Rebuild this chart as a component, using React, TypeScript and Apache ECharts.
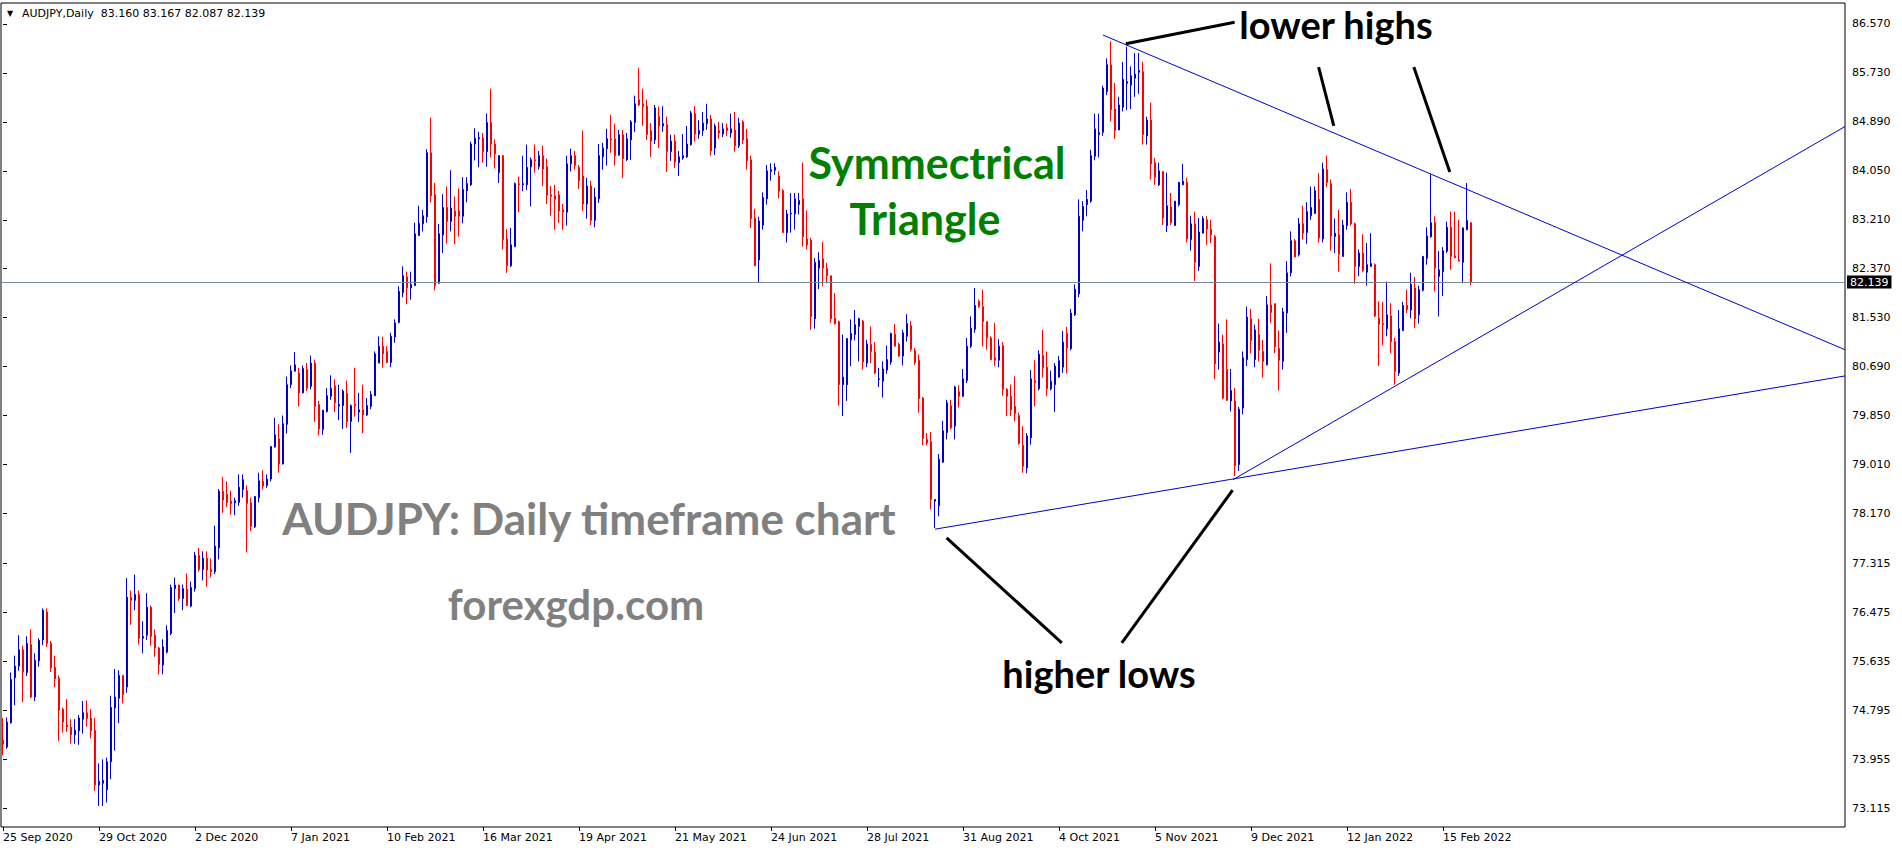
import React, { useEffect, useRef } from 'react';
import * as echarts from 'echarts';

// ---- axis tick labels ----
const TICK_LABELS = ['25 Sep 2020', '29 Oct 2020', '2 Dec 2020', '7 Jan 2021', '10 Feb 2021', '16 Mar 2021', '19 Apr 2021', '21 May 2021', '24 Jun 2021', '28 Jul 2021', '31 Aug 2021', '4 Oct 2021', '5 Nov 2021', '9 Dec 2021', '12 Jan 2022', '15 Feb 2022'];
const TICK_EVERY = 24;
const PRICE_TICKS = [86.570, 85.730, 84.890, 84.050, 83.210, 82.370, 81.530, 80.690, 79.850, 79.010, 78.170, 77.315, 76.475, 75.635, 74.795, 73.955, 73.115];
const SLOTS = 461;
const Y_MIN = 72.789;
const Y_MAX = 86.930;
const LAST_PRICE = 82.139;

// ---- daily candles ----
const OPEN = [
74.28,74.16,74.58,75.35,75.55,75.83,75.44,75.92,75.02,75.64,
76.00,76.48,75.94,75.53,75.34,74.81,74.54,74.50,74.37,74.44,
74.64,74.75,74.66,74.45,73.51,73.54,73.43,73.91,74.83,75.00,
75.39,75.19,76.73,76.68,76.78,76.03,76.08,76.56,76.08,75.86,
75.57,75.79,76.11,76.88,76.94,76.71,76.87,76.58,76.88,77.45,
77.21,77.40,77.21,77.17,77.58,78.55,78.50,78.38,78.35,78.36,
78.58,78.56,78.35,77.94,78.44,78.72,78.65,78.76,79.31,79.45,
79.02,79.70,80.38,80.61,80.58,80.24,80.64,80.35,80.75,80.04,
79.61,79.92,80.18,80.36,80.01,80.02,80.23,79.75,80.05,79.91,
79.95,79.86,80.01,80.19,80.75,81.04,80.95,80.76,81.20,81.45,
81.96,82.23,82.04,82.08,82.94,83.14,83.26,84.36,83.64,82.12,
82.95,83.42,83.18,83.36,83.36,83.27,83.71,83.81,84.51,84.60,
84.61,84.38,84.88,84.51,84.02,84.31,82.88,82.42,82.75,83.83,
83.81,83.81,84.12,84.24,84.12,84.31,84.12,83.64,83.62,83.64,
83.38,83.34,84.17,84.31,84.11,83.96,83.48,83.79,83.20,83.57,
84.29,84.43,84.60,84.60,84.32,84.67,84.24,84.58,84.88,85.27,
85.20,85.16,84.74,84.58,84.98,84.82,84.84,84.38,84.56,84.19,
84.27,84.29,84.50,85.03,84.68,84.74,84.86,84.94,84.44,84.74,
84.68,84.79,84.70,84.75,84.48,84.89,84.60,84.24,83.24,82.52,
83.12,83.57,84.04,84.06,83.96,83.71,82.99,83.31,83.31,83.47,
83.57,82.88,82.86,81.51,82.38,82.54,82.37,82.25,81.52,81.46,
80.38,80.38,81.15,81.24,81.38,81.47,80.75,81.07,80.94,80.47,
80.44,80.63,80.77,81.25,81.07,80.87,81.21,81.39,80.96,80.80,
80.15,79.44,79.40,78.38,78.30,79.05,79.56,80.02,79.67,80.26,
80.18,80.45,81.04,81.33,81.81,81.72,81.46,81.18,80.84,80.80,
81.05,80.30,80.18,80.01,79.85,79.34,78.95,79.47,80.45,80.31,
80.88,80.68,80.31,80.38,80.51,80.68,81.26,81.00,81.58,81.94,
83.20,83.47,83.53,84.30,84.67,84.71,85.41,85.87,85.11,84.75,
85.14,85.55,85.52,85.64,85.74,85.75,84.65,84.92,84.19,83.81,
84.04,83.11,83.43,83.11,83.47,83.81,83.85,82.87,83.14,82.41,
82.98,83.21,83.05,82.92,80.94,81.08,80.64,80.10,80.10,79.01,
79.98,80.81,81.51,80.81,81.24,80.95,80.72,81.75,81.77,81.00,
80.78,81.61,82.30,82.85,82.61,83.14,82.99,83.28,83.32,83.56,
82.88,84.07,83.83,82.92,82.95,82.58,83.11,83.51,83.14,82.41,
82.64,82.31,82.41,82.44,81.52,81.43,81.34,81.56,81.12,80.58,
81.31,81.74,81.66,82.04,81.58,82.00,82.55,82.92,83.16,82.24,
82.32,82.67,83.08,82.59,82.52,82.48,83.04,83.160
];
const HIGH = [
74.66,74.67,75.44,75.73,76.08,75.90,76.06,76.18,75.77,76.03,
76.54,76.54,75.98,75.73,75.39,74.84,74.98,74.64,74.64,74.71,
74.95,74.96,74.81,74.66,73.88,73.95,73.98,75.04,75.50,75.48,
75.39,77.06,76.85,77.12,76.85,76.32,76.80,76.59,76.18,75.88,
76.01,76.25,76.95,77.07,76.95,76.95,77.14,77.00,77.51,77.58,
77.52,77.52,77.40,77.96,78.59,78.80,78.72,78.56,78.44,78.84,
78.84,78.65,78.44,78.47,78.87,78.91,78.84,79.32,79.81,79.70,
79.85,80.52,80.71,80.94,80.67,80.71,80.75,80.88,80.81,80.10,
79.95,80.32,80.54,80.47,80.38,80.30,80.45,80.04,80.67,80.24,
80.38,80.15,80.27,80.95,81.21,81.20,81.04,81.27,81.50,82.07,
82.41,82.32,82.32,83.16,83.45,83.38,84.42,84.96,83.84,83.14,
83.65,83.78,84.06,83.61,83.75,83.94,83.94,84.55,84.78,84.72,
84.70,85.03,85.46,84.59,84.32,84.32,83.05,83.07,83.85,83.95,
84.31,84.50,84.28,84.50,84.39,84.48,84.26,83.79,83.81,83.71,
83.48,84.31,84.43,84.39,84.15,84.74,83.93,83.88,83.76,84.51,
84.53,84.77,85.01,84.86,84.75,84.75,84.70,84.92,85.34,85.82,
85.46,85.27,84.87,85.18,85.15,85.16,84.98,84.67,84.67,84.39,
84.68,84.82,85.08,85.16,84.92,85.06,85.20,85.01,84.86,84.89,
84.87,84.86,85.03,85.06,84.96,84.92,84.77,84.31,83.40,83.26,
83.68,84.15,84.18,84.18,84.04,83.74,83.38,83.67,83.67,83.67,
84.19,83.37,82.90,82.55,82.65,82.83,82.47,82.25,81.95,81.48,
81.24,81.18,81.50,81.66,81.53,81.49,81.15,81.38,81.11,80.67,
80.78,81.05,81.27,81.42,81.10,81.32,81.59,81.47,81.01,80.90,
80.17,79.55,79.57,78.41,79.19,79.76,80.12,80.12,80.36,80.37,
80.65,81.18,81.55,82.04,81.84,82.01,81.47,81.21,81.44,81.16,
81.11,80.32,80.38,80.52,79.90,79.67,79.55,80.63,80.80,80.97,
81.32,80.95,80.62,80.75,80.87,81.30,81.37,81.68,82.10,83.56,
83.53,83.72,84.41,85.03,85.03,85.51,85.98,86.27,85.56,85.32,
85.92,86.18,85.84,86.07,86.07,85.92,84.98,85.22,84.27,84.19,
84.04,84.02,83.67,83.53,83.86,84.17,83.93,83.28,83.35,83.24,
83.27,83.27,83.21,82.95,81.43,81.24,81.50,80.65,80.32,80.00,
80.95,81.72,81.68,81.41,81.51,81.15,81.90,82.46,81.77,81.31,
81.70,82.50,83.01,82.88,83.24,83.45,83.51,83.78,83.78,84.01,
84.19,84.31,83.90,83.23,83.38,83.21,83.68,83.74,83.16,82.70,
82.96,82.81,82.98,82.46,81.81,81.80,82.15,81.78,81.18,81.66,
81.80,82.01,82.30,82.23,82.08,82.59,83.08,83.99,83.27,82.67,
82.74,83.18,83.35,83.35,83.21,83.08,83.84,83.167
];
const LOW = [
74.02,74.13,74.56,74.88,75.47,74.93,75.38,75.00,74.95,75.54,
75.91,75.88,75.45,75.19,74.27,74.41,74.42,74.22,74.22,74.20,
74.39,74.51,74.31,73.41,73.15,73.15,73.21,73.61,74.10,74.57,
74.91,75.09,76.26,76.51,75.92,75.77,76.00,75.90,75.71,75.41,
75.41,75.77,76.08,76.46,76.67,76.51,76.59,76.56,76.83,77.17,
77.02,76.91,77.07,77.13,77.38,78.18,78.28,78.15,78.14,78.30,
78.44,77.50,77.87,77.92,78.36,78.58,78.61,78.72,79.30,78.87,
79.01,79.54,80.32,80.61,80.01,80.23,80.27,80.30,79.74,79.51,
79.52,79.90,80.12,79.91,79.77,79.62,79.64,79.21,79.83,79.74,
79.55,79.84,79.96,80.19,80.75,80.67,80.75,80.68,81.10,81.43,
81.88,81.76,81.84,82.08,82.94,83.01,83.16,83.51,82.00,82.11,
82.64,82.80,83.01,82.79,82.92,83.15,83.51,83.79,84.23,84.11,
84.19,84.12,84.28,84.09,83.84,82.70,82.30,82.40,82.74,83.34,
83.70,83.72,83.44,84.02,84.07,83.79,83.48,83.28,83.04,83.16,
83.04,83.11,84.04,84.07,83.74,83.36,83.23,83.12,83.08,83.50,
84.07,84.14,84.36,84.14,84.31,83.93,84.22,84.24,84.72,85.16,
84.82,84.58,84.29,84.51,84.44,84.72,84.03,84.22,84.10,83.96,
84.24,84.27,84.48,84.55,84.60,84.65,84.75,84.31,84.32,84.60,
84.63,84.65,84.62,84.38,84.44,84.51,84.07,83.07,82.42,82.14,
83.04,83.47,83.88,83.98,83.58,82.99,82.82,82.99,83.04,83.30,
82.75,82.70,81.32,81.34,82.02,82.07,82.12,81.44,81.41,80.02,
79.84,80.10,80.70,81.14,80.78,80.64,80.68,80.75,80.56,80.34,
80.16,80.57,80.72,81.04,80.86,80.71,81.12,80.95,80.72,79.90,
79.34,79.34,78.24,77.92,78.12,79.04,79.44,79.61,79.44,79.99,
80.17,80.41,81.01,81.27,81.70,81.04,80.98,80.80,80.70,80.68,
80.19,79.84,79.84,79.75,79.35,78.87,78.86,79.35,80.01,80.28,
80.50,80.18,80.28,79.91,80.50,80.58,80.57,80.97,81.56,81.88,
83.01,83.27,83.50,84.23,84.28,84.65,85.35,84.90,84.60,84.75,
85.07,85.09,85.11,85.32,85.37,84.50,84.50,83.90,83.81,83.79,
83.12,83.00,83.12,83.11,83.44,83.81,82.82,82.68,82.16,82.33,
82.98,82.78,82.81,80.47,80.64,80.13,80.11,79.92,78.81,78.90,
79.87,80.70,80.92,80.68,80.78,80.50,80.71,81.44,80.92,80.28,
80.64,81.27,82.24,82.57,82.58,82.87,82.80,83.21,83.31,82.82,
82.82,83.77,82.68,82.64,82.32,82.58,83.04,83.11,82.11,82.24,
82.31,82.08,82.40,81.54,80.70,81.05,81.21,80.92,80.38,80.53,
81.30,81.61,81.52,81.35,81.43,81.98,82.44,82.90,81.98,81.55,
81.90,82.64,82.35,82.55,82.50,82.12,83.03,82.087
];
const CLOSE = [
74.21,74.59,75.32,75.55,75.83,75.45,75.94,75.02,75.65,75.99,
76.51,75.94,75.52,75.33,74.80,74.59,74.51,74.37,74.45,74.66,
74.75,74.65,74.44,73.51,73.57,73.59,73.91,74.84,75.02,75.39,
75.06,76.73,76.68,76.78,76.03,76.06,76.56,76.06,75.86,75.58,
75.88,76.16,76.90,76.94,76.71,76.88,76.59,76.90,77.45,77.21,
77.40,77.20,77.17,77.61,78.55,78.40,78.36,78.34,78.39,78.62,
78.75,78.34,77.95,78.46,78.73,78.64,78.76,79.32,79.52,79.02,
79.71,80.38,80.62,80.72,80.24,80.66,80.32,80.75,80.01,79.62,
79.94,80.19,80.32,80.07,80.04,80.27,79.75,80.02,80.02,79.95,
79.86,80.02,80.21,80.91,81.04,80.91,80.76,81.21,81.44,81.98,
82.25,82.04,82.10,82.97,83.15,83.28,84.36,83.62,82.08,82.97,
83.42,83.18,83.41,83.27,83.27,83.73,83.83,84.51,84.61,84.62,
84.38,84.88,84.51,84.34,84.31,82.87,82.42,82.78,83.83,83.81,
83.83,84.11,84.24,84.22,84.31,84.08,83.63,83.61,83.56,83.36,
83.34,84.17,84.31,84.14,83.88,83.48,83.79,83.20,83.60,84.31,
84.44,84.60,84.58,84.31,84.67,84.26,84.60,84.89,85.20,85.18,
85.15,84.67,84.56,85.13,84.82,84.86,84.38,84.56,84.20,84.29,
84.31,84.51,85.04,84.68,84.74,84.87,84.94,84.39,84.82,84.70,
84.77,84.74,84.77,84.48,84.87,84.58,84.22,83.23,82.42,83.19,
83.59,84.05,84.07,84.11,83.70,82.99,83.31,83.32,83.57,83.54,
82.92,82.78,81.55,82.48,82.51,82.38,82.25,81.51,81.43,80.38,
80.51,81.17,81.26,81.41,81.51,80.77,81.08,80.95,80.58,80.48,
80.65,80.81,81.26,81.04,80.87,81.27,81.43,80.99,80.76,80.14,
79.46,79.38,78.41,78.41,79.10,79.59,80.07,79.64,80.34,80.18,
80.48,81.04,81.35,81.74,81.72,81.46,81.18,80.81,80.80,81.04,
80.30,80.18,79.95,79.88,79.37,78.98,79.50,80.48,80.41,80.90,
80.67,80.31,80.44,80.70,80.79,81.11,81.01,81.61,82.02,83.27,
83.44,83.56,84.31,84.77,84.71,85.47,85.87,85.10,84.74,85.18,
85.62,85.58,85.68,85.71,85.77,84.67,84.92,84.17,83.94,84.05,
83.24,83.45,83.16,83.53,83.85,83.87,82.88,83.14,82.48,83.00,
83.23,83.05,82.95,80.74,81.11,80.15,80.11,80.28,78.99,79.96,
80.84,81.54,81.14,81.32,80.97,80.78,81.75,81.62,81.03,80.80,
81.63,82.30,82.85,82.57,83.14,82.98,83.35,83.42,83.71,82.90,
84.08,83.85,82.93,82.98,82.62,83.12,83.51,83.14,82.41,82.64,
82.34,82.44,82.46,81.56,81.42,81.41,81.58,81.12,80.61,81.34,
81.74,81.67,82.10,81.51,82.01,82.58,82.93,83.16,82.38,82.35,
82.68,83.08,82.58,82.56,82.50,83.07,83.20,82.139
];

// ---- trend lines, [bar index, price] ----
const UPPER_TREND = [[275, 86.38], [460.5, 80.98]];
const LOWER_TREND = [[233, 77.90], [460.5, 80.53]];
const RISING_TREND = [[307.5, 78.75], [460.5, 84.81]];
// annotation pointers, [bar index, price]
const POINTERS = [
  [[280.7, 86.23], [307.9, 86.60]],
  [[328.9, 85.83], [332.7, 84.82]],
  [[352.7, 85.83], [361.7, 84.03]],
  [[235.9, 77.75], [264.7, 75.95]],
  [[279.7, 75.95], [307.4, 78.57]],
];

const BLUE = '#0000cd';
const RED = '#ff0000';
const AXIS_FONT = '"DejaVu Sans", Tahoma, sans-serif';
const BIG_FONT = 'Lato, "Open Sans", sans-serif';

export default function App() {
  const ref = useRef<HTMLDivElement>(null);
  useEffect(() => {
    if (!ref.current) return;
    document.body.style.margin = '0';
    const chart = echarts.init(ref.current, undefined, { renderer: 'svg' });
    const categories = Array.from({ length: SLOTS }, (_, i) => String(i));
    const candles = OPEN.map((o, i) => {
      const c = CLOSE[i];
      const h = Math.max(HIGH[i], o, c);
      const l = Math.min(LOW[i], o, c);
      return [o, c, l, h];
    });
    const last = OPEN.length - 1;
    const header = `AUDJPY,Daily  ${OPEN[last].toFixed(3)} ${HIGH[last].toFixed(3)} ${LOW[last].toFixed(3)} ${CLOSE[last].toFixed(3)}`;
    const showTick = (i: number) => i % TICK_EVERY === 0 && i / TICK_EVERY < TICK_LABELS.length;

    const lineSeries = (data: number[][], color: string, width: number) => ({
      type: 'line',
      xAxisIndex: 1,
      yAxisIndex: 0,
      data,
      symbol: 'none',
      silent: true,
      lineStyle: { color, width },
      z: 5,
    });

    const bigText = (text: string, x: number, y: number, size: number, fill: string) => ({
      type: 'text',
      x,
      y,
      z: 100,
      style: {
        text,
        fill,
        font: `bold ${size}px ${BIG_FONT}`,
        textAlign: 'center',
        textVerticalAlign: 'middle',
      },
    });

    chart.setOption({
      animation: false,
      backgroundColor: '#ffffff',
      grid: {
        left: 1,
        right: 57,
        top: 3,
        bottom: 23,
        show: true,
        borderColor: '#000000',
        borderWidth: 1,
        backgroundColor: '#ffffff',
      },
      xAxis: [
        {
          type: 'category',
          data: categories,
          boundaryGap: true,
          axisLine: { show: false },
          axisTick: {
            show: true,
            alignWithLabel: true,
            interval: (i: number) => showTick(i),
            length: 4,
            lineStyle: { color: '#000' },
          },
          axisLabel: {
            show: true,
            interval: (i: number) => showTick(i),
            formatter: (_v: string, i: number) => (showTick(i) ? TICK_LABELS[i / TICK_EVERY] : ''),
            align: 'left',
            margin: 5,
            color: '#000',
            fontFamily: AXIS_FONT,
            fontSize: 11,
          },
          splitLine: { show: false },
        },
        {
          type: 'value',
          min: -0.5,
          max: SLOTS - 0.5,
          show: false,
        },
      ],
      yAxis: [
        {
          type: 'value',
          position: 'right',
          min: Y_MIN,
          max: Y_MAX,
          scale: true,
          axisLine: { show: false },
          splitLine: { show: false },
          axisTick: {
            show: true,
            length: 4,
            customValues: PRICE_TICKS,
            lineStyle: { color: '#000' },
          },
          axisLabel: {
            show: true,
            customValues: PRICE_TICKS,
            formatter: (v: number) => v.toFixed(3),
            margin: 7,
            color: '#000',
            fontFamily: AXIS_FONT,
            fontSize: 11,
          },
        },
      ],
      series: [
        {
          type: 'candlestick',
          xAxisIndex: 0,
          yAxisIndex: 0,
          data: candles,
          barWidth: 2,
          itemStyle: {
            color: BLUE,
            color0: RED,
            borderColor: BLUE,
            borderColor0: RED,
            borderWidth: 1,
          },
          z: 3,
          markLine: {
            silent: true,
            symbol: 'none',
            animation: false,
            lineStyle: { color: '#778899', width: 1, type: 'solid' },
            label: {
              show: true,
              position: 'end',
              distance: 2,
              formatter: LAST_PRICE.toFixed(3),
              backgroundColor: '#000000',
              color: '#ffffff',
              padding: [1, 3, 1, 3],
              fontFamily: AXIS_FONT,
              fontSize: 11,
            },
            data: [{ yAxis: LAST_PRICE }],
          },
        },
        lineSeries(UPPER_TREND, BLUE, 1),
        lineSeries(LOWER_TREND, BLUE, 1),
        lineSeries(RISING_TREND, BLUE, 1),
        ...POINTERS.map((p) => lineSeries(p, '#000000', 3)),
      ],
      graphic: [
        {
          type: 'text',
          x: 7,
          y: 13,
          z: 100,
          style: { text: '▼', fill: '#000', font: `8px ${AXIS_FONT}`, textVerticalAlign: 'middle' },
        },
        {
          type: 'text',
          x: 22,
          y: 13,
          z: 100,
          style: { text: header, fill: '#000', font: `11px ${AXIS_FONT}`, textVerticalAlign: 'middle' },
        },
        bigText('lower highs', 1336, 24, 38, '#000000'),
        bigText('higher lows', 1099, 673, 38, '#000000'),
        bigText('Symmectrical', 937, 162, 43, '#008000'),
        bigText('Triangle', 925, 218, 43, '#008000'),
        bigText('AUDJPY: Daily timeframe chart', 589, 518, 44, '#808080'),
        bigText('forexgdp.com', 576, 604, 42, '#808080'),
      ],
    });
    return () => chart.dispose();
  }, []);
  return <div ref={ref} style={{ position: 'fixed', left: 0, top: 0, width: 1902, height: 850 }} />;
}
